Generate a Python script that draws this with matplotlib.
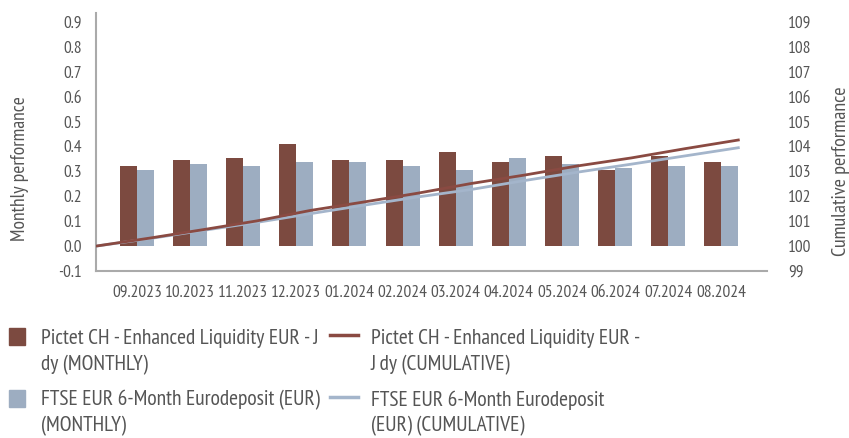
import matplotlib
matplotlib.use("Agg")
import matplotlib.pyplot as plt
import numpy as np
from matplotlib.patches import Rectangle
from matplotlib.lines import Line2D

plt.rcParams["font.family"] = ["PT Sans Narrow", "DejaVu Sans"]

months = ["09.2023", "10.2023", "11.2023", "12.2023", "01.2024", "02.2024",
          "03.2024", "04.2024", "05.2024", "06.2024", "07.2024", "08.2024"]
fund_monthly = [0.323, 0.345, 0.353, 0.410, 0.345, 0.345,
                0.378, 0.337, 0.361, 0.305, 0.361, 0.337]
bench_monthly = [0.305, 0.329, 0.321, 0.337, 0.337, 0.321,
                 0.305, 0.353, 0.329, 0.313, 0.321, 0.321]
fund_cumulative = [100.0, 100.32, 100.66, 101.01, 101.43, 101.77, 102.12,
                   102.51, 102.85, 103.22, 103.54, 103.91, 104.26]
bench_cumulative = [100.0, 100.30, 100.63, 100.95, 101.30, 101.64, 101.97,
                    102.27, 102.63, 102.97, 103.29, 103.62, 103.95]

fund_labels = ["Pictet CH - Enhanced Liquidity EUR - J", "dy (MONTHLY)"]
fund_cum_labels = ["Pictet CH - Enhanced Liquidity EUR -", "J dy (CUMULATIVE)"]
bench_labels = ["FTSE EUR 6-Month Eurodeposit (EUR)", "(MONTHLY)"]
bench_cum_labels = ["FTSE EUR 6-Month Eurodeposit", "(EUR) (CUMULATIVE)"]

BROWN = "#7c4a40"
BLUE = "#9dadc1"
BROWN_LINE = "#8a4a42"
BLUE_LINE = "#a4b5cb"
TEXT = "#555555"
SPINE = "#aaaaaa"

W, H = 849, 438
fig = plt.figure(figsize=(W / 100, H / 100), dpi=100)
ax = fig.add_axes([96 / W, 1 - 271 / H, (767 - 96) / W, (271 - 13) / H])
ax2 = ax.twinx()

x = np.arange(len(months))
bw = 0.32
ax.bar(x - bw / 2, fund_monthly, bw, color=BROWN, zorder=2)
ax.bar(x + bw / 2, bench_monthly, bw, color=BLUE, zorder=2)

x_left, x_right = -0.77, 11.86
ax.set_xlim(x_left, x_right)
ax.set_ylim(-0.1, 0.936)
yt = np.arange(-0.1, 0.91, 0.1)
ax.set_yticks(yt)
ax.set_yticklabels([f"{v:.1f}" for v in yt])
ax.set_xticks(x)
ax.set_xticklabels(months)

xc = np.linspace(x_left, 11.32, len(fund_cumulative))
ax2.plot(xc, bench_cumulative, color=BLUE_LINE, lw=2, zorder=3)
ax2.plot(xc, fund_cumulative, color=BROWN_LINE, lw=2, zorder=3)
ax2.set_ylim(99, 109.36)
ax2.set_yticks(range(99, 110))

for a in (ax, ax2):
    for s in a.spines.values():
        s.set_visible(False)
    a.tick_params(length=0, labelsize=12.5, labelcolor=TEXT)
for side in ("left", "bottom"):
    ax.spines[side].set_visible(True)
    ax.spines[side].set_color(SPINE)
    ax.spines[side].set_linewidth(1.5)
ax.tick_params(axis="y", pad=10)
ax.tick_params(axis="x", pad=10)
ax2.tick_params(axis="y", pad=15)

fig.text(20 / W, 1 - 169 / H, "Monthly performance", rotation=90,
         fontsize=14, color=TEXT, ha="center", va="center")
fig.text(841 / W, 1 - 171 / H, "Cumulative performance", rotation=90,
         fontsize=14.5, color=TEXT, ha="center", va="center")

# legend drawn by hand
fs = 15.5
rows = [
    (BROWN, fund_labels, BROWN_LINE, fund_cum_labels, 338, 365),
    (BLUE, bench_labels, BLUE_LINE, bench_cum_labels, 400, 426),
]
for pc, plab, lc, llab, y1, y2 in rows:
    fig.patches.append(Rectangle((9 / W, 1 - (y1 + 7) / H), 16 / W, 17 / H,
                                 transform=fig.transFigure, color=pc))
    fig.lines.append(Line2D([330 / W, 358 / W], [1 - (y1 - 3) / H] * 2,
                            transform=fig.transFigure, color=lc, lw=2.5))
    fig.text(41 / W, 1 - y1 / H, plab[0], fontsize=fs, color=TEXT, va="center")
    fig.text(41 / W, 1 - y2 / H, plab[1], fontsize=fs, color=TEXT, va="center")
    fig.text(371 / W, 1 - y1 / H, llab[0], fontsize=fs, color=TEXT, va="center")
    fig.text(371 / W, 1 - y2 / H, llab[1], fontsize=fs, color=TEXT, va="center")

fig.savefig("out.png", dpi=100)
